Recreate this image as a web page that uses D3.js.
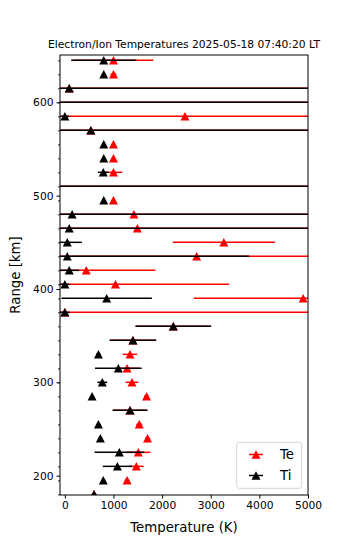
<!DOCTYPE html>
<html><head><meta charset="utf-8">
<script src="https://cdn.jsdelivr.net/npm/d3@7"></script>
<style>body{margin:0;background:#fff}svg{display:block}text{font-family:"DejaVu Sans",sans-serif}</style>
</head><body><div id="c"></div>
<script>
// Range gates (km), top to bottom
const ranges = [645,630,615,600,585,570,555,540,525,510,495,480,465,450,435,420,405,390,375,360,345,330,315,300,285,270,255,240,225,210,195,180];
// Electron temperature (K) and its error
const te    = [1000,1000,90,-1500,2470,535,1000,1000,1000,-1500,1000,1420,1490,3270,2710,440,1040,4900,0,2230,1400,1340,1280,1380,1680,1340,1530,1700,1510,1470,1280,600];
const teErr = [820,60,9000,9000,9000,9000,40,40,180,9000,40,9000,9000,1050,3000,1420,2340,2250,6000,770,470,150,250,130,50,350,60,50,250,150,50,50];
// Ion temperature (K) and its error
const ti    = [800,800,90,-1500,0,535,800,800,790,-1500,800,150,90,50,50,90,0,860,0,2230,1400,690,1100,770,560,1340,690,730,1120,1080,790,600];
const tiErr = [670,40,9000,9000,90,9000,30,30,110,9000,30,9000,9000,300,3740,200,100,930,100,780,480,50,480,100,40,360,40,40,510,300,40,40];
const xTicks = [0,1000,2000,3000,4000,5000];
const yTicks = [200,300,400,500,600];
const title = "Electron/Ion Temperatures 2025-05-18 07:40:20 LT";

const W=350,H=550, L=60,R=308,T=55,B=495;
const svg=d3.select("#c").append("svg").attr("width",W).attr("height",H);
const x=d3.scaleLinear().domain([-100,5000]).range([L,R]);
const y=d3.scaleLinear().domain([179.3,650.7]).range([B,T]);

svg.append("clipPath").attr("id","clip").append("rect").attr("x",L).attr("y",T).attr("width",R-L).attr("height",B-T);
const g=svg.append("g").attr("clip-path","url(#clip)");

function tri(cx,cy){const w=9,h=8.5;return `M${cx},${cy-h/2}L${cx+w/2},${cy+h/2}L${cx-w/2},${cy+h/2}Z`;}

function series(vals,errs,color){
  const s=g.append("g");
  s.selectAll("line").data(ranges).join("line")
    .attr("x1",(d,i)=>x(vals[i]-errs[i])).attr("x2",(d,i)=>x(vals[i]+errs[i]))
    .attr("y1",d=>y(d)).attr("y2",d=>y(d))
    .attr("stroke",color).attr("stroke-width",1.5);
  s.selectAll("path").data(ranges).join("path")
    .attr("d",(d,i)=>tri(x(vals[i]),y(d))).attr("fill",color);
}
series(te,teErr,"#ff0000");
series(ti,tiErr,"#000000");

// frame
svg.append("rect").attr("x",L).attr("y",T).attr("width",R-L).attr("height",B-T)
  .attr("fill","none").attr("stroke","#000").attr("stroke-width",1);

// x axis
const xa=svg.append("g").attr("transform",`translate(0,${B})`)
  .call(d3.axisBottom(x).tickValues(xTicks).tickFormat(d3.format("d")).tickSize(3.5).tickPadding(3));
xa.select(".domain").remove();
xa.selectAll("text").attr("font-size",10.7).attr("font-family","DejaVu Sans").attr("fill","#000");
xa.selectAll("line").attr("stroke","#000");

// y axis major
const ya=svg.append("g").attr("transform",`translate(${L},0)`)
  .call(d3.axisLeft(y).tickValues(yTicks).tickSize(3.5).tickPadding(3));
ya.select(".domain").remove();
ya.selectAll("text").attr("font-size",10.7).attr("font-family","DejaVu Sans").attr("fill","#000");
ya.selectAll("line").attr("stroke","#000");
// y minor ticks at range gates
const ym=svg.append("g").attr("transform",`translate(${L},0)`)
  .call(d3.axisLeft(y).tickValues(ranges).tickSize(2).tickFormat(""));
ym.select(".domain").remove();
ym.selectAll("line").attr("stroke","#000").attr("stroke-width",0.8);

svg.append("text").attr("x",(L+R)/2).attr("y",47.5).attr("text-anchor","middle")
  .attr("font-size",10.7).text(title);
svg.append("text").attr("x",(L+R)/2).attr("y",531.5).attr("text-anchor","middle")
  .attr("font-size",13.3).text("Temperature (K)");
svg.append("text").attr("transform",`translate(19.5,${(T+B)/2}) rotate(-90)`).attr("text-anchor","middle")
  .attr("font-size",13.3).text("Range [km]");

// legend
const lg=svg.append("g");
lg.append("rect").attr("x",236.7).attr("y",442.3).attr("width",65).attr("height",46).attr("rx",2.5)
  .attr("fill","#fff").attr("fill-opacity",0.8).attr("stroke","#d5d5d5").attr("stroke-width",1);
[["Te","#ff0000",454.5],["Ti","#000000",475.5]].forEach(([t,c,yy])=>{
  lg.append("line").attr("x1",249).attr("x2",263).attr("y1",yy).attr("y2",yy).attr("stroke",c).attr("stroke-width",1.5);
  lg.append("path").attr("d",tri(256,yy)).attr("fill",c);
  lg.append("text").attr("x",280).attr("y",yy+4.7).attr("font-size",13.3).text(t);
});
</script></body></html>
